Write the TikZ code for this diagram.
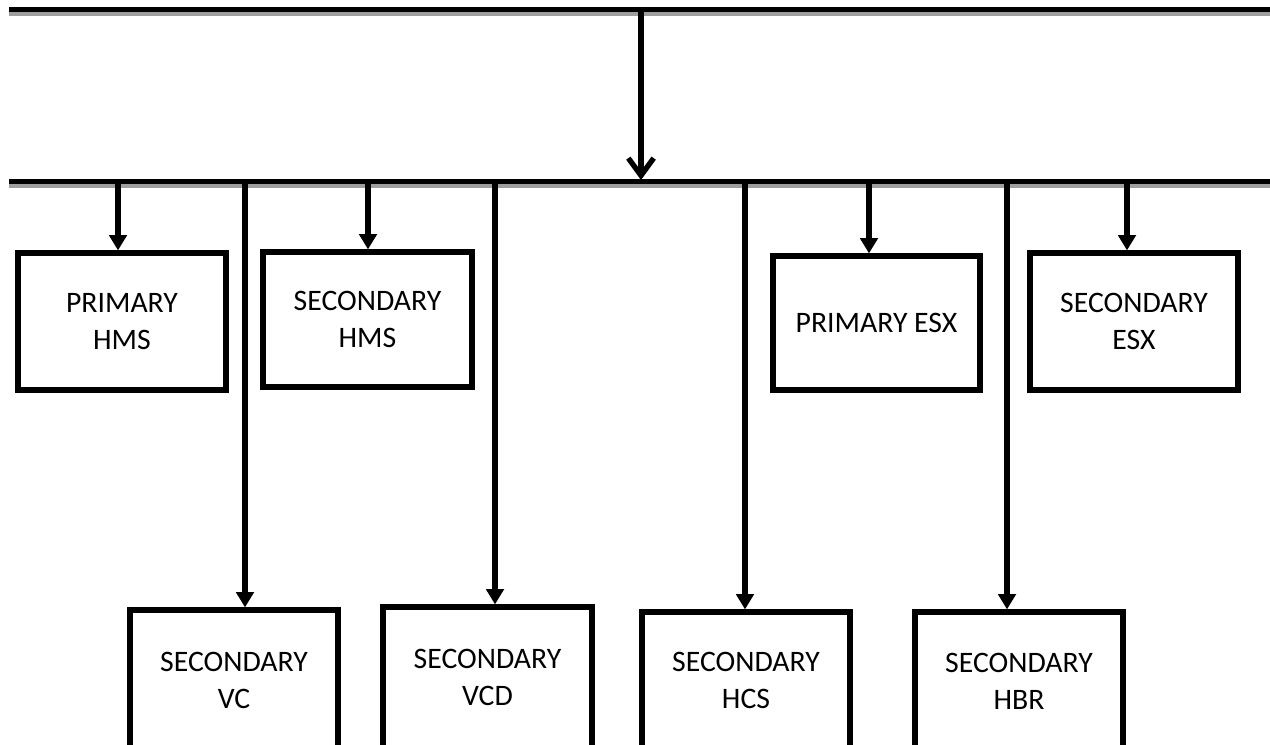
\documentclass[tikz,border=0pt]{standalone}
\usepackage{fontspec}
\setmainfont{Carlito}
\usetikzlibrary{arrows.meta}
\begin{document}
\begin{tikzpicture}[x=0.75pt,y=-0.75pt,
  box/.style={draw=black, line width=3.9pt, fill=white, align=center,
    font=\fontsize{22.3}{27.75}\selectfont, inner sep=0pt},
  bus/.style={line width=4pt, black},
  busshadow/.style={line width=3.5pt, black!38},
  feed/.style={line width=4pt, -{Triangle[width=13pt,length=11.5pt]}},
  mainfeed/.style={line width=4pt, line cap=round, -{Straight Barb[length=13pt,width=19pt]}}]
\useasboundingbox (0,0) rectangle (1270,744);
\clip (0,0) rectangle (1270,744);

% buses
\coordinate (topL) at (9,9.5);
\coordinate (topR) at (1272,9.5);
\coordinate (busL) at (9,181.5);
\coordinate (busR) at (1272,181.5);
\draw[busshadow] ([yshift=-4.5*0.75pt]topL) -- ([yshift=-4.5*0.75pt]topR);
\draw[busshadow] ([yshift=-4.5*0.75pt]busL) -- ([yshift=-4.5*0.75pt]busR);
\draw[bus] (topL) -- (topR);
\draw[bus] (busL) -- (busR);

% main feed
\coordinate (m1) at (641,12);
\coordinate (m2) at (641,180);
\draw[mainfeed] (m1) -- (m2);

% upper boxes
\node[box, minimum width=208*0.75pt, minimum height=137*0.75pt] (phms) at (122,321.5) {PRIMARY\\HMS};
\node[box, minimum width=209*0.75pt, minimum height=135*0.75pt] (shms) at (367.5,319.5) {SECONDARY\\HMS};
\node[box, minimum width=207*0.75pt, minimum height=134*0.75pt] (pesx) at (876.5,323) {PRIMARY ESX};
\node[box, minimum width=208*0.75pt, minimum height=137*0.75pt] (sesx) at (1134,321.5) {SECONDARY\\ESX};

% lower boxes
\node[box, minimum width=208*0.75pt, minimum height=140*0.75pt] (svc) at (234,680) {SECONDARY\\VC};
\node[box, minimum width=209*0.75pt, minimum height=141*0.75pt] (svcd) at (487.5,677.5) {SECONDARY\\VCD};
\node[box, minimum width=208*0.75pt, minimum height=137*0.75pt] (shcs) at (746,680.5) {SECONDARY\\HCS};
\node[box, minimum width=208*0.75pt, minimum height=139*0.75pt] (shbr) at (1019,681.5) {SECONDARY\\HBR};

% taps on bus
\coordinate (t1) at (118,183);
\coordinate (t2) at (368,183);
\coordinate (t3) at (869,183);
\coordinate (t4) at (1127,183);
\coordinate (t5) at (245,183);
\coordinate (t6) at (495,183);
\coordinate (t7) at (745,183);
\coordinate (t8) at (1007,183);

\draw[feed] (t1) -- (t1 |- phms.north);
\draw[feed] (t2) -- (t2 |- shms.north);
\draw[feed] (t3) -- (t3 |- pesx.north);
\draw[feed] (t4) -- (t4 |- sesx.north);
\draw[feed] (t5) -- (t5 |- svc.north);
\draw[feed] (t6) -- (t6 |- svcd.north);
\draw[feed] (t7) -- (t7 |- shcs.north);
\draw[feed] (t8) -- (t8 |- shbr.north);
\end{tikzpicture}
\end{document}
